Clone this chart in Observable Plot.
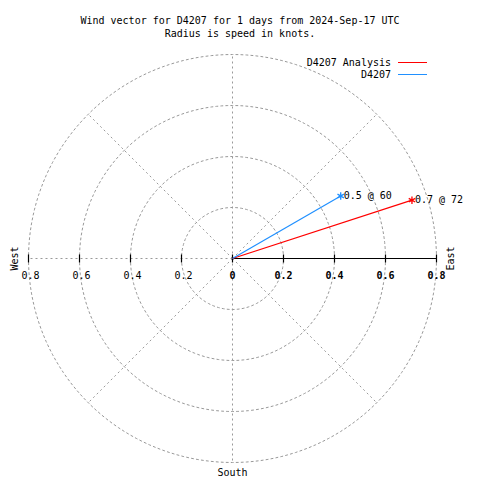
<!DOCTYPE html>
<html><head><meta charset="utf-8">
<script src="https://cdn.jsdelivr.net/npm/d3@7"></script>
<script src="https://cdn.jsdelivr.net/npm/@observablehq/plot@0.6"></script>
<style>
body{margin:0;background:#fff;font-family:"DejaVu Sans Mono",monospace;font-size:10px;color:#000;}
#wrap{position:relative;width:480px;height:480px;overflow:hidden;}
#title{box-sizing:border-box;height:40px;padding-top:14px;text-align:center;line-height:13px;white-space:pre;}
#legend{position:absolute;top:56px;left:0;width:480px;}
.lg{position:absolute;height:13px;line-height:13px;}
</style></head>
<body><div id="wrap"><div id="title"></div><div id="chart"></div><div id="legend"></div></div>
<script>
const titleLines = ["Wind vector for D4207 for 1 days from 2024-Sep-17 UTC", "Radius is speed in knots."];
const seriesNames = ["D4207 Analysis", "D4207"];
const seriesColors = ["#ff0000", "#2090ff"];
const speeds = [0.74, 0.49];       // knots
const directions = [72, 60];       // degrees (compass)
const ringRadii = [0.2, 0.4, 0.6, 0.8];
const spokeAngles = [0, 45, 90, 135, 180, 225, 270, 315];
const leftTickLabels = ["0.8", "0.6", "0.4", "0.2"];
const rightTickLabels = ["0", "0.2", "0.4", "0.6", "0.8"];
const compassLabels = ["West", "East", "South"];

document.getElementById("title").textContent = titleLines.join("\n");

const rad = d => d * Math.PI / 180;
const vectors = seriesNames.map((name, i) => ({
  name, color: seriesColors[i],
  x: speeds[i] * Math.sin(rad(directions[i])),
  y: speeds[i] * Math.cos(rad(directions[i])),
  label: `${speeds[i].toFixed(1)} @ ${directions[i]}`
}));

const rings = ringRadii.flatMap(r => d3.range(0, 361, 2).map(a => ({r, x: r * Math.cos(rad(a)), y: r * Math.sin(rad(a))})));
const R = ringRadii[ringRadii.length - 1];
const spokes = spokeAngles.map(a => ({x: R * Math.cos(rad(a)), y: R * Math.sin(rad(a))}));
const tk = 4 / 255;
const leftTicks = leftTickLabels.map(s => -parseFloat(s));
const rightTicks = rightTickLabels.map(s => parseFloat(s));

const grid = {stroke: "#999", strokeWidth: 1, strokeDasharray: "2,3"};
const font = {fontFamily: "DejaVu Sans Mono", fontSize: 10, fill: "#000"};

const chart = Plot.plot({
  width: 480, height: 440,
  marginTop: 0, marginBottom: 0, marginLeft: 0, marginRight: 0,
  x: {domain: [-232 / 255, 248 / 255], axis: null},
  y: {domain: [-222 / 255, 218 / 255], axis: null},
  style: {fontFamily: "DejaVu Sans Mono", fontSize: "10px", background: "#fff"},
  marks: [
    Plot.line(rings, {x: "x", y: "y", z: "r", ...grid}),
    Plot.link(spokes, {x1: 0, y1: 0, x2: "x", y2: "y", ...grid}),
    Plot.link([0], {x1: 0, y1: 0, x2: R, y2: 0, stroke: "#000", strokeWidth: 1.2}),
    Plot.link(leftTicks.concat(rightTicks), {x1: d => d, x2: d => d, y1: -tk, y2: tk, stroke: "#000", strokeWidth: 1.2}),
    Plot.text(leftTickLabels, {x: d => -parseFloat(d), y: 0, text: d => d, dy: 17, dx: 2, ...font}),
    Plot.text(rightTickLabels, {x: d => parseFloat(d), y: 0, text: d => d, dy: 17, fontWeight: "bold", ...font}),
    Plot.text([compassLabels[0]], {x: -R, y: 0, text: d => d, dx: -14, rotate: -90, ...font}),
    Plot.text([compassLabels[1]], {x: R, y: 0, text: d => d, dx: 14, rotate: -90, ...font}),
    Plot.text([compassLabels[2]], {x: 0, y: -R, text: d => d, dy: 10, ...font}),
    Plot.link(vectors, {x1: 0, y1: 0, x2: "x", y2: "y", stroke: "color", strokeWidth: 1.2}),
    Plot.dot(vectors, {x: "x", y: "y", symbol: "asterisk", r: 3.5, stroke: "color", strokeWidth: 1.3}),
    Plot.text(vectors, {x: "x", y: "y", text: "label", textAnchor: "start", dx: 3, ...font})
  ]
});
document.getElementById("chart").appendChild(chart);

const lg = document.getElementById("legend");
seriesNames.forEach((name, i) => {
  const t = document.createElement("div");
  t.className = "lg";
  t.style.right = (480 - 391) + "px";
  t.style.top = (i * 12) + "px";
  t.textContent = name;
  lg.appendChild(t);
  const l = document.createElement("div");
  l.style.position = "absolute";
  l.style.left = "398px";
  l.style.width = "29px";
  l.style.top = (i * 12 + 6) + "px";
  l.style.height = "1.3px";
  l.style.background = seriesColors[i];
  lg.appendChild(l);
});
</script></body></html>
